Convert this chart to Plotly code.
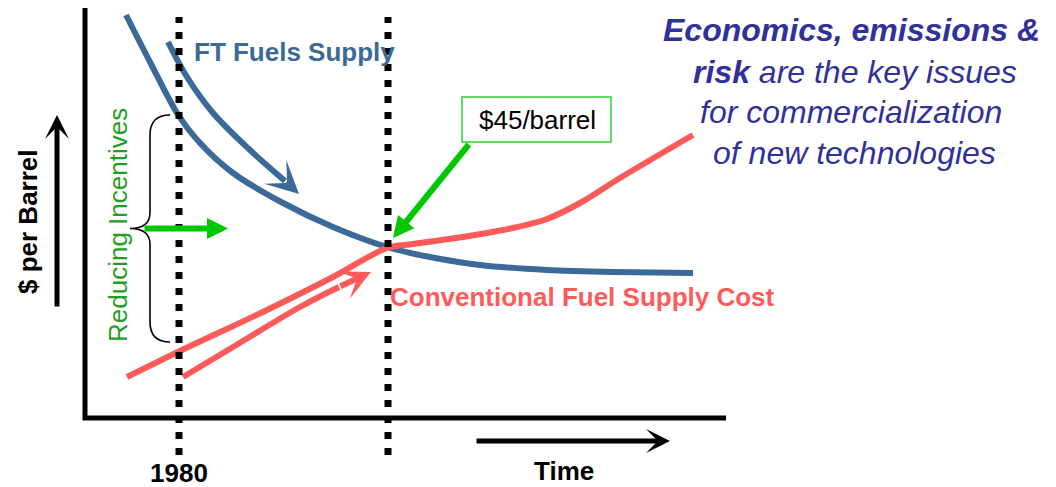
import plotly.graph_objects as go

# ---- data (abstract units: time along x, $/barrel along y) ----
ft_time = [4.1, 6.5, 9.2, 11.5, 14.8, 19.8, 24.8, 30.2, 34.5, 39.5, 46.2, 52.8, 60.8]
ft_cost = [40.3, 35.6, 30.5, 27.5, 24.5, 21.5, 19.1, 17.1, 16.1, 15.3, 14.8, 14.6, 14.5]

conv_time = [4.2, 9.5, 18.2, 24.8, 30.2, 32.8, 37.8, 42.8, 46.2, 49.5, 53.5, 60.8]
conv_cost = [4.1, 6.7, 10.8, 14.1, 17.0, 17.4, 18.1, 19.0, 19.9, 21.5, 24.0, 28.3]

ft_trend_time = [8.3, 10.2, 12.8, 16.5, 20.0]
ft_trend_cost = [37.6, 34.1, 30.5, 26.8, 23.7]
ft_trend_tip = (21.4, 22.4)

conv_trend_time = [9.8, 14.8, 21.5, 25.4]
conv_trend_cost = [4.1, 7.1, 11.1, 13.1]
conv_trend_tip = (28.6, 14.6)

year_1980 = 9.4
year_parity = 30.3
parity_price_label = "$45/barrel"

x_axis_end = 64.1
y_axis_end = 41.2

BLUE = "#3b6998"
RED = "#ff5a5a"
GREEN = "#00c800"
TEXT_GREEN = "#1f9f1f"
NAVY = "#30319a"
FONT = "Liberation Sans, Arial, sans-serif"

fig = go.Figure()

# main curves
fig.add_trace(go.Scatter(x=ft_time, y=ft_cost, mode="lines",
                         line=dict(color=BLUE, width=6, shape="spline", smoothing=0.8), hoverinfo="skip"))
fig.add_trace(go.Scatter(x=conv_time, y=conv_cost, mode="lines",
                         line=dict(color=RED, width=6, shape="spline", smoothing=0.9), hoverinfo="skip"))
# trend arrows (curved shafts)
fig.add_trace(go.Scatter(x=ft_trend_time, y=ft_trend_cost, mode="lines",
                         line=dict(color=BLUE, width=6, shape="spline"), hoverinfo="skip"))
fig.add_trace(go.Scatter(x=conv_trend_time, y=conv_trend_cost, mode="lines",
                         line=dict(color=RED, width=6, shape="spline"), hoverinfo="skip"))

# dotted year markers
for xv in (year_1980, year_parity):
    fig.add_trace(go.Scatter(x=[xv, xv], y=[-3.7, 40.1], mode="lines",
                             line=dict(color="black", width=7, dash="7px,9px"),
                             hoverinfo="skip"))

# axes lines
fig.add_trace(go.Scatter(x=[0, 0, x_axis_end], y=[y_axis_end, 0, 0], mode="lines",
                         line=dict(color="black", width=5), hoverinfo="skip"))

# brace spanning FT cost to conventional cost at 1980
b_top = 30.3
b_bot = 7.6
b_mid = (b_top + b_bot) / 2
bx, bx0, btip = 8.5, 6.5, 4.5
brace = (f"M {bx},{b_top} Q {bx0},{b_top} {bx0},{b_top-2} L {bx0},{b_mid+1.6} "
         f"Q {bx0},{b_mid} {btip},{b_mid} Q {bx0},{b_mid} {bx0},{b_mid-1.6} "
         f"L {bx0},{b_bot+2} Q {bx0},{b_bot} {bx},{b_bot}")
fig.add_shape(type="path", path=brace, xref="x", yref="y",
              line=dict(color="black", width=1.6))

# $45/barrel box
fig.add_shape(type="rect", xref="x", yref="y", x0=37.7, x1=52.6, y0=27.6, y1=32.1,
              line=dict(color="#33cc33", width=1.5), fillcolor="white")

ann = []
def arrow(x, y, ax, ay, color, width, head, size):
    ann.append(dict(x=x, y=y, ax=ax, ay=ay, xref="x", yref="y", axref="x", ayref="y",
                    text="", showarrow=True, arrowhead=head, arrowsize=size,
                    arrowwidth=width, arrowcolor=color, standoff=0, startstandoff=0))

arrow(ft_trend_tip[0], ft_trend_tip[1], ft_trend_time[-1], ft_trend_cost[-1], BLUE, 6, 3, 0.9)
arrow(conv_trend_tip[0], conv_trend_tip[1], conv_trend_time[-1], conv_trend_cost[-1], RED, 6, 3, 0.85)
arrow(14.3, b_mid, 5.8, b_mid, GREEN, 6, 2, 0.7)
arrow(30.8, 18.0, 38.5, 27.5, GREEN, 6, 2, 0.7)
arrow(-2.8, 30.3, -2.8, 11.0, "black", 5, 3, 0.8)
arrow(58.5, -2.3, 39.0, -2.3, "black", 5, 3, 0.8)

def text(x, y, t, size, color, bold=False, italic=False, angle=0, family=FONT):
    ann.append(dict(x=x, y=y, xref="x", yref="y", text=t, showarrow=False,
                    textangle=angle,
                    font=dict(family=family, size=size, color=color,
                              weight="bold" if bold else "normal",
                              style="italic" if italic else "normal"),
                    xanchor="center", yanchor="middle"))

text(year_1980, -5.5, "1980", 26, "black", bold=True)
text(47.9, -5.3, "Time", 26, "black", bold=True)
text(-5.7, 19.6, "$ per Barrel", 26, "black", bold=True, angle=-90)
text(3.3, 19.3, "Reducing Incentives", 26, TEXT_GREEN, angle=-90)
text(20.9, 36.6, "FT Fuels Supply", 26, BLUE, bold=True)
text(49.7, 12.1, "Conventional Fuel Supply Cost", 26, RED, bold=True)
text(45.2, 29.85, parity_price_label, 26, "black")

text(76.6, 38.8, "Economics, emissions &", 32, NAVY, bold=True, italic=True)
text(77.0, 34.6, "<b>risk</b> are the key issues", 32, NAVY, italic=True)
text(76.6, 30.6, "for commercialization", 32, NAVY, italic=True)
text(76.9, 26.5, "of new technologies", 32, NAVY, italic=True)

# figure sits at the page's 8px body margin, so it spans 1048x479 of the 1056x487 window
fig.update_layout(
    width=1048, height=479, margin=dict(l=0, r=0, t=0, b=0),
    paper_bgcolor="white", plot_bgcolor="white", showlegend=False,
    xaxis=dict(range=[-7.7, 97.1], visible=False, fixedrange=True),
    yaxis=dict(range=[-6.9, 41.0], visible=False, fixedrange=True),
    annotations=ann,
)

fig.write_html("out.html")
